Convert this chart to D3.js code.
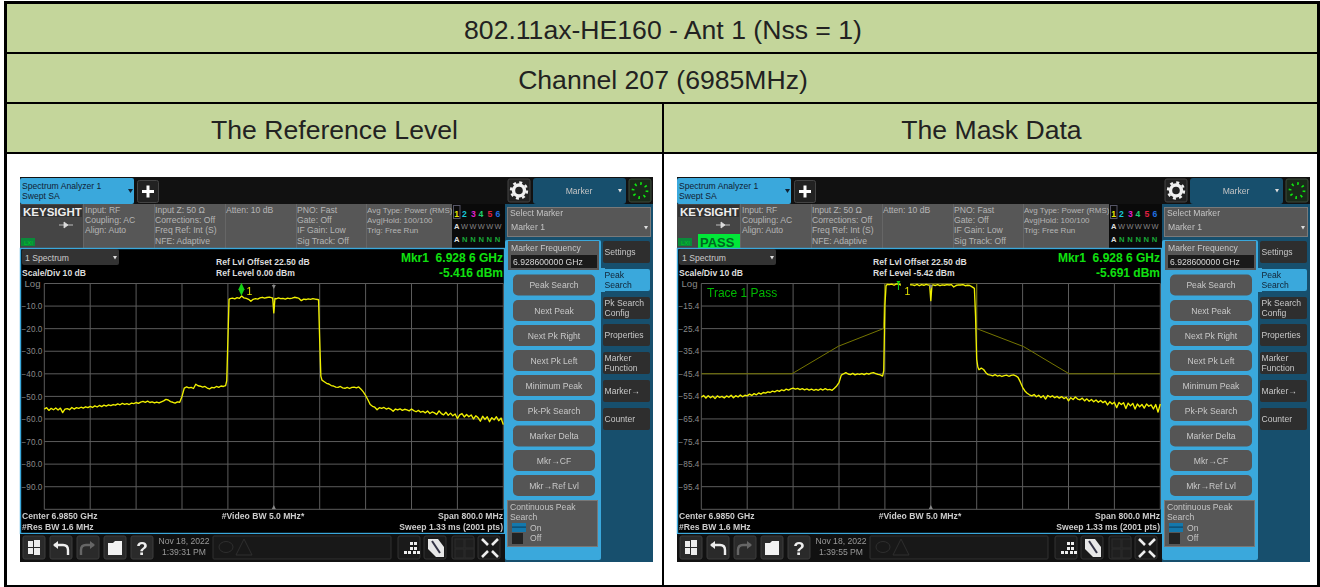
<!DOCTYPE html>
<html><head><meta charset="utf-8">
<script src="https://cdn.jsdelivr.net/npm/d3@7/dist/d3.min.js"></script>
<style>
html,body{margin:0;padding:0;background:#fff;overflow:hidden}
svg{display:block;font-family:"Liberation Sans",Arial,sans-serif}
</style></head><body><svg id="c" width="1320" height="587"></svg>
<script>
const titleLine1 = "802.11ax-HE160 - Ant 1 (Nss = 1)";
const titleLine2 = "Channel 207 (6985MHz)";
const columnTitles = ["The Reference Level", "The Mask Data"];

const freqOffsets = [
-400,-396,-392,-388,-384,-380,-376,-372,-368,-364,
-360,-356,-352,-348,-344,-340,-336,-332,-328,-324,
-320,-316,-312,-308,-304,-300,-296,-292,-288,-284,
-280,-276,-272,-268,-264,-260,-256,-252,-248,-244,
-240,-236,-232,-228,-224,-220,-216,-212,-208,-204,
-200,-196,-192,-188,-184,-180,-176,-172,-168,-164,
-160,-156,-152,-148,-144,-140,-136,-132,-128,-124,
-120,-116,-112,-108,-104,-100,-96,-92,-88,-84,
-82,-80,-78,-76,-72,-68,-64,-60,-56,-52,
-48,-44,-40,-36,-32,-28,-24,-20,-16,-12,
-8,-4,-2,0,2,4,8,12,16,20,24,28,
32,36,40,44,48,52,56,60,64,68,
72,76,78,80,82,84,88,92,96,100,
104,108,112,116,120,124,128,132,136,140,
144,148,152,156,160,164,168,172,176,180,
184,188,192,196,200,204,208,212,216,220,
224,228,232,236,240,244,248,252,256,260,
264,268,272,276,280,284,288,292,296,300,
304,308,312,316,320,324,328,332,336,340,
344,348,352,356,360,364,368,372,376,380,
384,388,392,396,400];

const refLevelTrace = [
-55.6,-55,-56.2,-55.3,-55.9,-55.1,-56,-55.2,-57.2,-55.6,
-55.4,-55.9,-54.9,-55.6,-55,-55.3,-54.8,-55.2,-54.6,-55,
-54.4,-54.9,-54.2,-54.7,-54,-54.5,-53.9,-54.3,-53.7,-54.1,
-53.6,-53.9,-53.3,-53.7,-53.1,-53.5,-53.2,-53.6,-53,-53.2,
-52.7,-53.1,-52.5,-52.2,-52.6,-52.1,-52.7,-52.4,-52.9,-52.5,
-52.9,-52.4,-52,-51.3,-51.6,-52.3,-52.6,-53,-52.4,-52.6,
-50,-46.3,-45.8,-46.2,-46,-46.5,-44.6,-45.3,-45.5,-45.9,
-45.6,-46.3,-46.7,-46,-46.2,-45.6,-46,-45.4,-45.6,-45.2,
-43,-25,-7,-6.7,-6.5,-6.8,-6.3,-6.6,-5.5,-6.4,
-6.6,-7,-7.9,-7,-6.7,-6.9,-6.4,-6.1,-6.5,-6.2,
-6,-6.3,-6.4,-13,-6.6,-6.8,-6.4,-6.7,-6.6,-6.9,-6.5,-6.7,
-6.5,-6.1,-6.3,-6.6,-7.6,-6.9,-7.1,-6.8,-7,-6.7,
-6.9,-7.1,-7.2,-25,-41,-42.8,-43.5,-44.2,-44.5,-45.2,
-45.4,-45.9,-46,-45.6,-46.2,-46.4,-46,-46.5,-46,-45.9,
-46.2,-45.8,-46.8,-48,-49.6,-51.5,-53.6,-54.4,-54.8,-55.9,
-55,-55.3,-54.9,-55.6,-55.2,-55.7,-56.6,-55.6,-56,-55.5,
-56.2,-55.7,-56,-56.4,-55.6,-56.3,-56.8,-56.2,-57,-56.6,
-57.3,-56.5,-57.6,-56.9,-57.3,-58,-56.4,-57.6,-58.2,-57,
-58.4,-57.4,-58.6,-57.8,-59.8,-58.2,-57.6,-59.1,-58,-59,
-58.2,-60,-58.6,-59.4,-61,-58.8,-60.2,-59,-61.2,-59.4,
-60.4,-59,-60.8,-59.6,-62.5];

const maskDataTrace = [
-55.8,-55,-56.2,-55.1,-56,-55.3,-56.4,-55.2,-55.9,-55.4,
-56.1,-55.2,-55.8,-54.9,-56,-55.1,-55.7,-54.8,-55.6,-54.9,
-55.2,-54.4,-55,-54.2,-54.7,-53.9,-54.4,-53.7,-54,-53.4,
-53.7,-53.1,-53.4,-52.8,-53.2,-52.5,-52.9,-52.2,-52.6,-52.1,
-51.8,-52.2,-51.9,-52.4,-52,-52.5,-52.1,-52.6,-52.2,-52.7,
-52.3,-52.7,-52.1,-52.6,-52,-52.5,-52.3,-52.7,-51.8,-50.8,
-49.3,-46,-45.4,-44.9,-45.5,-45.8,-45.2,-45.9,-45.4,-45.7,
-45.3,-45.8,-45.2,-45.6,-45.1,-44.9,-45.3,-45.7,-45.9,-46.4,
-44,-15,-6.5,-5.8,-5.9,-5.7,-6.2,-5.6,-5.69,-6.1,
-6.2,-6,-6.1,-5.9,-6,-6.3,-5.8,-6.4,-5.9,-6.2,
-5.8,-6.1,-6.2,-13,-6.2,-6,-6.3,-5.9,-6.4,-6,-6.2,-5.9,
-6.1,-5.9,-7,-6.3,-6,-6.1,-5.9,-6.4,-6.2,-6.3,
-6.9,-7.6,-20,-39,-42.4,-43.6,-42.9,-43.5,-44.9,-45.8,
-46,-46.3,-45.8,-46.4,-46.1,-46.6,-46.2,-46,-46.5,-46.1,
-45.9,-46.3,-47,-49,-51.4,-53,-54,-54.7,-55.2,-54.6,
-55.6,-54.9,-55.9,-55.1,-56.6,-55,-55.7,-55.2,-56,-55.4,
-56.2,-55.5,-56.4,-55.8,-57.4,-56,-56.8,-55.7,-56.6,-56.9,
-56.2,-57.4,-56.5,-57.6,-56.8,-57.8,-57,-58,-57.2,-58.2,
-57.5,-59.2,-57.8,-58.8,-58,-60.4,-58.1,-59,-58.2,-60.8,
-58.4,-59.6,-58.5,-61,-58.8,-60,-59,-60.6,-58.8,-59.8,
-59.2,-61,-59,-62.4,-58.8];

const maskFreq  = [-400,-242,-161,-82.7,-80,80,80,162,241,400];
const maskLevel = [-45.4,-45.4,-33.2,-25.4,-5.42,-5.42,-25.4,-33.4,-45.4,-45.4];

const refTopLeft = 0, refTopRight = -5.42;
const yTicksLeft  = [-10,-20,-30,-40,-50,-60,-70,-80,-90];
const yTicksRight = [-15.4,-25.4,-35.4,-45.4,-55.4,-65.4,-75.4,-85.4,-95.4];
const xGridOffsets = [-400,-320,-240,-160,-80,0,80,160,240,320,400];

const softKeys = ["Peak Search","Next Peak","Next Pk Right","Next Pk Left","Minimum Peak","Pk-Pk Search","Marker Delta","Mkr→CF","Mkr→Ref Lvl"];
const softKeyCentres = [285,310.5,335.5,360.5,385.5,410.5,436,460.5,485.5];
const sideTabs = [["Settings"],["Peak","Search"],["Pk Search","Config"],["Properties"],["Marker","Function"],["Marker→"],["Counter"]];
const sideTabTops = [241,269,297,324,352,380,408];
const infoColumns = [
 {x:85, lines:["Input: RF","Coupling: AC","Align: Auto"]},
 {x:155,lines:["Input Z: 50 Ω","Corrections: Off","Freq Ref: Int (S)","NFE: Adaptive"]},
 {x:226,lines:["Atten: 10 dB"]},
 {x:297,lines:["PNO: Fast","Gate: Off","IF Gain: Low","Sig Track: Off"]},
 {x:367,lines:["Avg Type: Power (RMS)","Avg|Hold: 100/100","Trig: Free Run"]}];
const traceNums = ["1","2","3","4","5","6"];
const traceColors = ["#e8e800","#18c8d8","#e020d0","#20d070","#e02040","#2070e0"];
const traceNumX = [456.7,464.3,473.3,481,490,498];

const screens = [
 {dx:0,  top:refTopLeft,  ticks:yTicksLeft,  trace:refLevelTrace, refText:"Ref Level 0.00 dBm", mkr:"-5.416 dBm", date:"1:39:31 PM", mask:false, markerDb:-5.416},
 {dx:657,top:refTopRight, ticks:yTicksRight, trace:maskDataTrace, refText:"Ref Level -5.42 dBm",mkr:"-5.691 dBm", date:"1:39:55 PM", mask:true,  markerDb:-5.691}];
const markerOffset = -56.4;

const svg = d3.select("#c");
function rect(g,x,y,w,h,fill,o={}){const r=g.append("rect").attr("x",x).attr("y",y).attr("width",w).attr("height",h).attr("fill",fill);
  if(o.rx)r.attr("rx",o.rx); if(o.stroke)r.attr("stroke",o.stroke).attr("stroke-width",o.sw||1); return r;}
function text(g,x,y,s,o={}){return g.append("text").attr("x",x).attr("y",y).text(s)
  .attr("font-size",o.size||8.6).attr("fill",o.fill||"#bdbdbd").attr("font-weight",o.bold?"bold":null)
  .attr("text-anchor",o.anchor||"start");}

// table
rect(svg,6,3,1312,150,"#c4d69b");
const black="#000";
rect(svg,4,1,1316,3,black); rect(svg,4,1,3,586,black); rect(svg,1317,1,3,586,black); rect(svg,4,585,1316,2,black);
rect(svg,4,52,1316,2,black); rect(svg,4,102,1316,2,black); rect(svg,4,152,1316,2,black);
rect(svg,662,103,2,484,black);
const hs=26.6;
text(svg,663,39,titleLine1,{size:hs,fill:"#222",anchor:"middle"});
text(svg,663,89,titleLine2,{size:hs,fill:"#222",anchor:"middle"});
text(svg,334.5,139,columnTitles[0],{size:hs,fill:"#222",anchor:"middle"});
text(svg,991.5,139,columnTitles[1],{size:hs,fill:"#222",anchor:"middle"});

const x = d3.scaleLinear().domain([-400,400]).range([44.3,503.3]);
const line = d3.line();

screens.forEach(s=>{
  const g = svg.append("g").attr("transform",`translate(${s.dx},0)`).style("filter","blur(0.45px)");
  const y = d3.scaleLinear().domain([s.top,s.top-100]).range([283.5,509.3]);
  // base
  rect(g,20,177,633,385,"#111");
  rect(g,505,204,148,358,"#174f6d");
  // tabs
  rect(g,20,178,114,26,"#3aa8dc",{rx:2});
  text(g,22,189,"Spectrum Analyzer 1",{fill:"#123"});
  text(g,22,199,"Swept SA",{fill:"#123"});
  g.append("path").attr("d","M128 189h5l-2.5 4z").attr("fill","#123");
  rect(g,137.5,180.5,21,22,"#222",{rx:2,stroke:"#444"});
  rect(g,142,190,12,3,"#fff"); rect(g,146.5,185.5,3,12,"#fff");
  // info bar
  rect(g,20,204,485,44,"#575757");
  rect(g,20,204,63,44,"#454545");
  rect(g,21,205,61,12,"#333");
  text(g,23,216,"KEYSIGHT",{size:11.5,bold:true,fill:"#eee"});
  g.append("path").attr("d","M59 225h14M64 222l4 3l-4 3z").attr("stroke","#ddd").attr("fill","#ddd").attr("stroke-width",.8);
  rect(g,21,238,14,8,"#0a8a3a");
  text(g,24,245,"LXI",{size:6,fill:"#0c2"});
  if(s.mask){ rect(g,41,234,43,14,"#00e838"); text(g,43,247,"PASS",{size:13,bold:true,fill:"#062"}); }
  [83,154,225,296,366].forEach(v=>rect(g,v,204,1,44,"#666"));
  infoColumns.forEach(c=>c.lines.forEach((l,i)=>text(g,c.x,213+i*10.2,l,{fill:"#b5b5b5",size:c.x===367?8:8.6})));
  rect(g,452,204,53,44,"#0a0a0a");
  rect(g,453.5,205.5,6.5,13,"none",{stroke:"#556"});
  traceNums.forEach((n,i)=>text(g,traceNumX[i],216.5,n,{size:8.6,bold:true,fill:traceColors[i],anchor:"middle"}));
  text(g,454,229,"A",{size:7.6,bold:true,fill:"#ddd"});
  ["W","W","W","W","W"].forEach((w,i)=>text(g,461+i*8.4,229,w,{size:7.4,fill:"#888"}));
  text(g,454,242,"A",{size:7.6,bold:true,fill:"#ddd"});
  ["N","N","N","N","N"].forEach((w,i)=>text(g,462+i*8.2,242,w,{size:7.6,bold:true,fill:"#18a838"}));
  // plot region
  rect(g,20.5,248.5,484,285,"#000",{stroke:"#3aa8dc",sw:1.4});
  rect(g,22,249,97,16,"#333",{rx:2});
  text(g,25,261,"1 Spectrum",{fill:"#ccc"});
  g.append("path").attr("d","M113 256h4l-2 3.5z").attr("fill","#ddd");
  text(g,22,276,"Scale/Div 10 dB",{bold:true,fill:"#ddd"});
  text(g,24.5,287,"Log",{size:9.6,fill:"#888"});
  text(g,216,265,"Ref Lvl Offset 22.50 dB",{bold:true,fill:"#ddd"});
  text(g,216,276,s.refText,{bold:true,fill:"#ddd"});
  text(g,503,262,"Mkr1\u00a0\u00a06.928 6 GHz",{size:12,bold:true,fill:"#10e010",anchor:"end"});
  text(g,503,277,s.mkr,{size:12,bold:true,fill:"#10e010",anchor:"end"});
  // axes and grid via d3.axis
  const yAxis = d3.axisLeft(y).tickValues(s.ticks).tickFormat(d3.format(".1f")).tickSize(0).tickPadding(2);
  const ya = g.append("g").attr("transform","translate(44.3,0)").call(yAxis);
  ya.select(".domain").remove();
  ya.selectAll("text").attr("fill","#8a8a8a").attr("font-size",8.2).attr("font-family","inherit");
  const grid = g.append("g");
  grid.selectAll("line.h").data([s.top,...s.ticks,s.top-100]).join("line").attr("class","h")
    .attr("x1",44.3).attr("x2",503.3).attr("y1",d=>y(d)).attr("y2",d=>y(d)).attr("stroke","#5c5c5c").attr("stroke-width",1);
  grid.selectAll("line.v").data(xGridOffsets).join("line").attr("class","v")
    .attr("x1",d=>x(d)).attr("x2",d=>x(d)).attr("y1",283.5).attr("y2",509.3).attr("stroke","#5c5c5c").attr("stroke-width",1);
  // mask
  if(s.mask){
    const clip = "cl"+s.dx;
    g.append("clipPath").attr("id",clip).append("rect").attr("x",44.3).attr("y",283.5).attr("width",459).attr("height",225.8);
    g.append("path").attr("d",line(maskFreq.map((f,i)=>[x(f),y(maskLevel[i])]))).attr("fill","none").attr("stroke","#757500").attr("stroke-width",1).attr("clip-path",`url(#${clip})`);
    text(g,50,297,"Trace 1  Pass",{size:12,fill:"#00b800"});
  }
  // trace
  g.append("path").attr("d",line(freqOffsets.map((f,i)=>[x(f),y(s.trace[i])]))).attr("fill","none").attr("stroke","#f0f000").attr("stroke-width",1.35).attr("stroke-linejoin","round");
  // centre triangles
  g.append("path").attr("d",`M${x(0)-2} 285h4l-2 4z`).attr("fill","#888");
  g.append("path").attr("d",`M${x(0)-2} 509h4l-2 -4z`).attr("fill","#888");
  // marker
  const mx=x(markerOffset), my=y(s.markerDb);
  if(s.mask){
    rect(g,x(-52),283,x(-36)-x(-52),10,"#000");
    g.append("path").attr("d",`M${mx-2} ${my-3}h4l-2 3.5z M${mx-.5} ${my}h1v6h-1z`).attr("fill","#14d014");
    text(g,mx+6,295,"1",{size:10.5,fill:"#e4e400"});
  } else {
    g.append("path").attr("d",`M${mx} ${my-13}l3 6.5l-3 6.5l-3 -6.5z`).attr("fill","#14d014");
    text(g,mx+5,294.5,"1",{size:10.5,fill:"#e4e400"});
  }
  // bottom labels
  text(g,22,519,"Center 6.9850 GHz",{bold:true,fill:"#ccc"});
  text(g,22,530,"#Res BW 1.6 MHz",{bold:true,fill:"#ccc"});
  text(g,263,519,"#Video BW 5.0 MHz*",{bold:true,fill:"#ccc",anchor:"middle"});
  text(g,503,519,"Span 800.0 MHz",{bold:true,fill:"#ccc",anchor:"end"});
  text(g,503,530,"Sweep 1.33 ms (2001 pts)",{bold:true,fill:"#ccc",anchor:"end"});
  // toolbar
  rect(g,20,534,485,28,"#111");
  [23,50,77,104,131].forEach(v=>rect(g,v,536,22,23,"#2a2a2a",{rx:2,stroke:"#3c3c3c"}));
  rect(g,28,541,5,6,"#eee");rect(g,34,540,6,7,"#eee");rect(g,28,548,5,6,"#eee");rect(g,34,548,6,7,"#eee");
  g.append("path").attr("d","M54 545h9q5 0 5 5v5").attr("fill","none").attr("stroke","#eee").attr("stroke-width",2.4);
  g.append("path").attr("d","M58 541v8l-5 -4z").attr("fill","#eee");
  g.append("path").attr("d","M94 545h-8q-5 0 -5 5v5").attr("fill","none").attr("stroke","#666").attr("stroke-width",2.4);
  g.append("path").attr("d","M90 541v8l5 -4z").attr("fill","#666");
  g.append("path").attr("d","M108 543h5l2 -2h7v14h-14z").attr("fill","#f2f2f2");
  text(g,142,555,"?",{size:19,bold:true,fill:"#eee",anchor:"middle"});
  text(g,184,544,"Nov 18, 2022",{fill:"#999",anchor:"middle"});
  text(g,184,555,s.date,{fill:"#999",anchor:"middle"});
  rect(g,213,536,178,23,"#181818",{rx:1,stroke:"#303030"});
  g.append("ellipse").attr("cx",226).attr("cy",547).attr("rx",7).attr("ry",5.5).attr("fill","none").attr("stroke","#2e2e2e");
  g.append("path").attr("d","M244 539l8 16h-16z").attr("fill","none").attr("stroke","#2e2e2e");
  [398,424,452,478].forEach(v=>rect(g,v,536,22,23,"#1a1a1a",{rx:2,stroke:"#333"}));
  [[405,552],[409,552],[414,552],[418,552],[411,548],[415,548],[411,543],[415,543]].forEach(p=>rect(g,p[0]-1,p[1]-1,3,3,"#eee"));
  g.append("path").attr("d","M428 539h10l6 8v10h-8l-8 -8z").attr("fill","#e8e8e8");
  g.append("path").attr("d","M432 541l8 12").attr("stroke","#334").attr("stroke-width",2);
  [[455,539],[465,539],[455,549],[465,549]].forEach(p=>rect(g,p[0],p[1],9,9,"#1f1f1f",{stroke:"#2c2c2c"}));
  g.append("path").attr("d","M482 539l6 6M498 539l-6 6M482 557l6 -6M498 557l-6 -6").attr("stroke","#eee").attr("stroke-width",2.6);
  // right panel
  rect(g,533,178,93,26,"#174f6d",{rx:3});
  text(g,579,194,"Marker",{fill:"#c4c4c4",anchor:"middle"});
  g.append("path").attr("d","M618 189h4l-2 3.5z").attr("fill","#ddd");
  rect(g,508,179,22,23,"#222",{rx:2,stroke:"#444"});
  g.append("circle").attr("cx",519).attr("cy",190.5).attr("r",5.5).attr("fill","none").attr("stroke","#f0f0f0").attr("stroke-width",3.4);
  g.append("circle").attr("cx",519).attr("cy",190.5).attr("r",8).attr("fill","none").attr("stroke","#f0f0f0").attr("stroke-width",2.4).attr("stroke-dasharray","3 3.28");
  rect(g,629,179,22,23,"#1a2a1a",{rx:2,stroke:"#3c4a3c"});
  g.append("circle").attr("cx",640).attr("cy",190.5).attr("r",7).attr("fill","none").attr("stroke","#10e810").attr("stroke-width",2.8).attr("stroke-dasharray","1.6 3.9");
  rect(g,507.5,207.5,143,29,"#575757",{stroke:"#7a7a7a"});
  text(g,510,216,"Select Marker",{fill:"#c4c4c4"});
  text(g,511,230,"Marker 1",{fill:"#c4c4c4"});
  g.append("path").attr("d","M644 226h4l-2 3.5z").attr("fill","#ddd");
  rect(g,505,240,96,320,"#3aa8dc",{rx:2});
  rect(g,508,241,91,29,"#575757");
  text(g,511,251,"Marker Frequency",{fill:"#c8c8c8"});
  rect(g,511,255,86,13,"#1a1a1a");
  text(g,513,265,"6.928600000 GHz",{fill:"#d8d8d8"});
  softKeys.forEach((k,i)=>{
    rect(g,513,softKeyCentres[i]-10.5,82,21,"#555",{rx:5});
    text(g,554,softKeyCentres[i]+3,k,{fill:"#c8c8c8",anchor:"middle"});
  });
  rect(g,507.5,500.5,90,46,"#575757",{stroke:"#777"});
  text(g,510,510,"Continuous Peak",{fill:"#c4c4c4"});
  text(g,510,520,"Search",{fill:"#c4c4c4"});
  rect(g,512,523,14,9,"#1478ac"); rect(g,512,526.5,14,1.2,"#0c4466");
  rect(g,512,533,11,11,"#222");
  text(g,530,531,"On",{fill:"#c4c4c4"});
  text(g,530,541,"Off",{fill:"#c4c4c4"});
  sideTabs.forEach((t,i)=>{
    const on=i===1;
    rect(g,603,sideTabTops[i],47,22,on?"#3aa8dc":"#2e2e2e",{rx:2});
    t.forEach((l,j)=>text(g,604.5,sideTabTops[i]+(t.length===1?14:9)+j*10,l,{fill:on?"#123":"#c8c8c8"}));
  });
  rect(g,601,268,4,24,"#3aa8dc");
});
</script></body></html>
